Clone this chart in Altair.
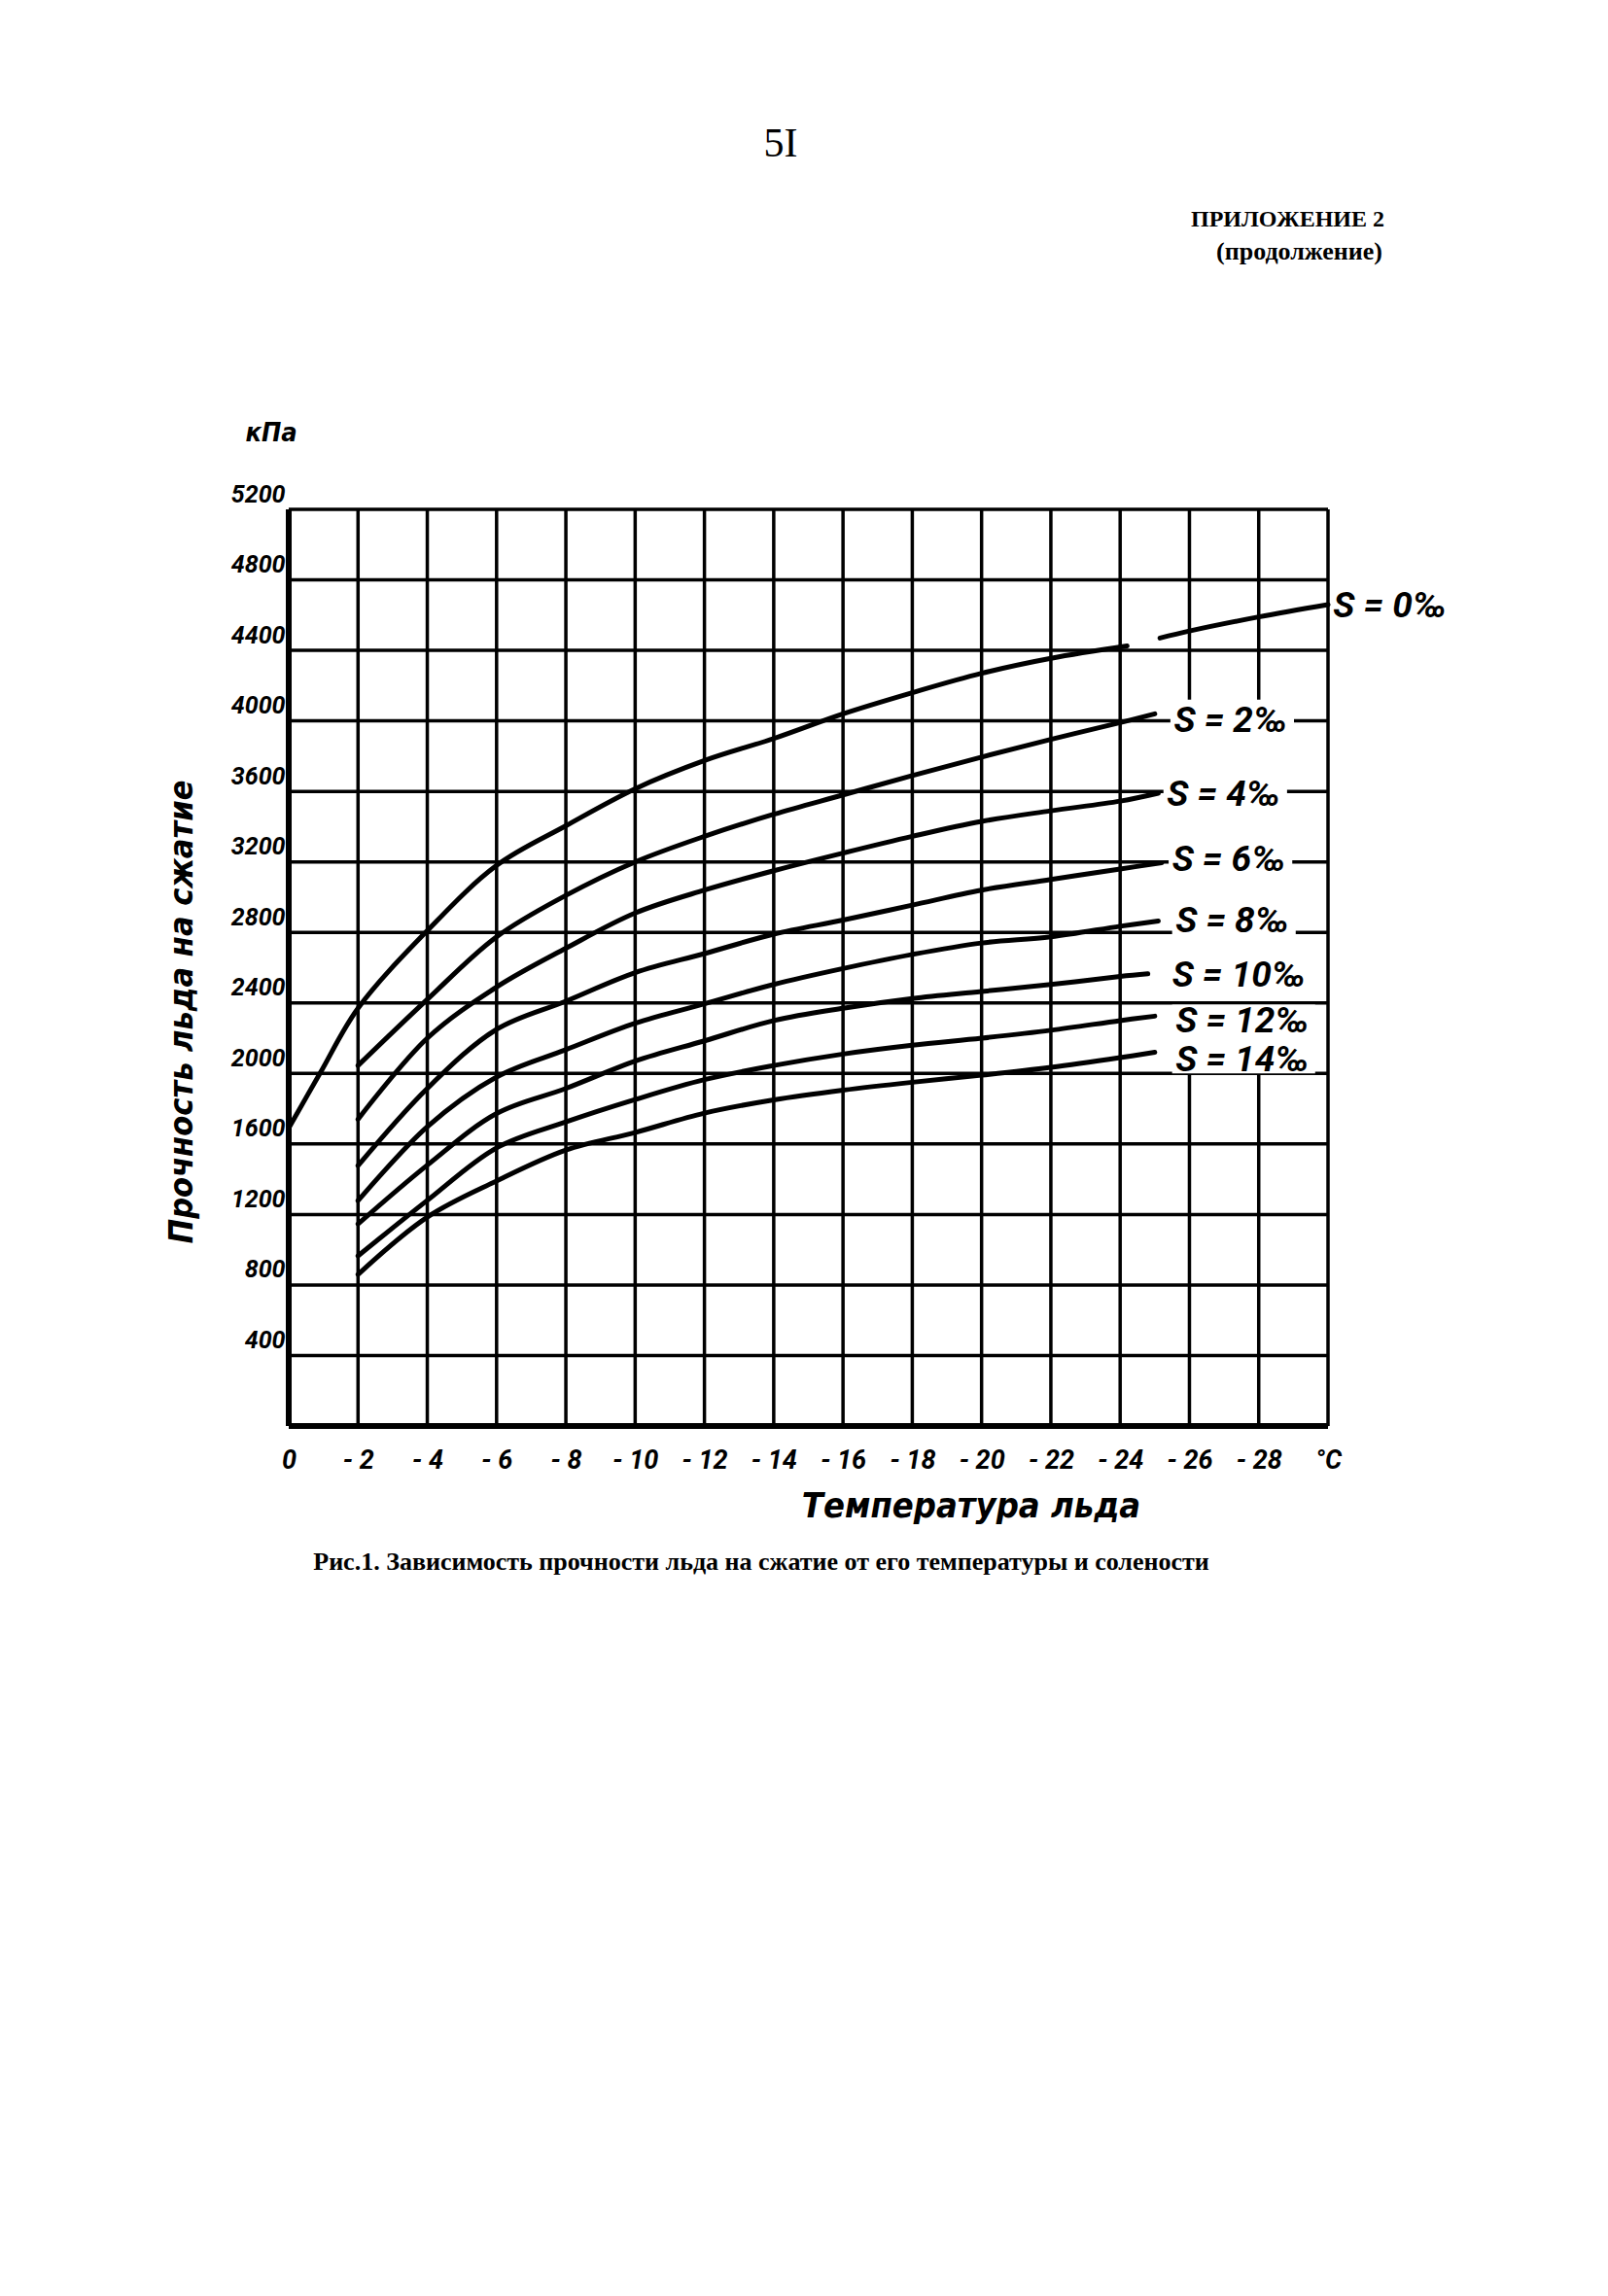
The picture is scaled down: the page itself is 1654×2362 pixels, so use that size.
import altair as alt
import pandas as pd

# ---------------- data ----------------
# S = 0 per mille (starts at 0 degC); drawn in two pieces as in the figure
S0_T_A = [0, -0.9, -2, -4, -6, -8, -10, -12, -14, -16, -18, -20, -22, -24.2]
S0_P_A = [1690, 2000, 2370, 2810, 3180, 3405, 3615, 3775, 3900, 4040, 4160, 4270, 4355, 4425]
S0_T_B = [-25.15, -26, -28, -30]
S0_P_B = [4470, 4510, 4590, 4660]

# salinity curves 2..14 per mille, start at -2 degC
SALINITY = [2, 4, 6, 8, 10, 12, 14]
T_COMMON = [-2, -4, -6, -8, -10, -12, -14, -16, -18, -20, -22, -24]
T_END = [-25.0, -25.1, -25.2, -25.1, -24.8, -25.0, -25.0]
P_S2 = [2045, 2420, 2775, 3010, 3200, 3345, 3470, 3580, 3690, 3795, 3895, 3990, 4040]
P_S4 = [1740, 2200, 2490, 2710, 2910, 3040, 3150, 3250, 3345, 3430, 3490, 3545, 3590]
P_S6 = [1477, 1915, 2250, 2410, 2572, 2680, 2790, 2870, 2955, 3040, 3100, 3160, 3195]
P_S8 = [1278, 1698, 1980, 2135, 2285, 2395, 2505, 2595, 2675, 2740, 2775, 2835, 2865]
P_S10 = [1146, 1480, 1773, 1915, 2070, 2185, 2300, 2370, 2425, 2465, 2505, 2550, 2565]
P_S12 = [965, 1280, 1578, 1725, 1852, 1965, 2045, 2110, 2160, 2200, 2245, 2300, 2325]
P_S14 = [860, 1185, 1390, 1565, 1665, 1775, 1850, 1905, 1950, 1990, 2035, 2090, 2120]
P_SERIES = [P_S2, P_S4, P_S6, P_S8, P_S10, P_S12, P_S14]

# curve labels
LABELS = ["S = 0‰", "S = 2‰", "S = 4‰", "S = 6‰", "S = 8‰", "S = 10‰", "S = 12‰", "S = 14‰"]
LABEL_T = [-30.15, -25.55, -25.35, -25.5, -25.6, -25.5, -25.6, -25.6]
LABEL_P = [4650, 4000, 3580, 3210, 2860, 2555, 2295, 2075]

# axes
X_TICKS = list(range(0, -31, -2))
Y_TICKS = list(range(400, 5201, 400))
Y_GRID = list(range(0, 5201, 400))
GAP_TEMPS = [-26, -28]          # grid lines interrupted behind the labels
GAP_RANGE = (1990, 4120)

# ---------------- styling ----------------
HAND = "DejaVu Sans Condensed, DejaVu Sans, sans-serif"
HAND_N = "Roboto, DejaVu Sans Condensed, sans-serif"
SERIF = "Liberation Serif, DejaVu Serif, serif"
W, H = 1069, 943
PAD = {"left": 297, "top": 524, "right": 1654 - 297 - W, "bottom": 2362 - 524 - H}

XS = alt.Scale(domain=[-30, 0], reverse=True, nice=False, zero=False)
YS = alt.Scale(domain=[0, 5200], nice=False, zero=False)

XAX = alt.Axis(values=X_TICKS,
               labelExpr="datum.value == 0 ? '0' : (datum.value == -30 ? '°C' : '- ' + abs(datum.value))",
               grid=False, domain=False, ticks=False, tickSize=0, labelPadding=22,
               labelFont=HAND_N, labelFontSize=27, labelFontWeight="bold", labelFontStyle="italic",
               labelColor="black", labelOverlap=False, labelFlush=False, labelBaseline="top")
YAX = alt.Axis(values=Y_TICKS, format="d", grid=False, domain=False, ticks=False, tickSize=0,
               labelPadding=4,
               labelFont=HAND_N, labelFontSize=25, labelFontWeight="bold", labelFontStyle="italic",
               labelColor="black", labelOverlap=False, labelFlush=False, labelBaseline="bottom",
               labelOffset=-3)


def xe():
    return alt.X("t:Q", scale=XS, axis=XAX, title=None)


def ye():
    return alt.Y("p:Q", scale=YS, axis=YAX, title=None)


# ---------------- tables ----------------
rows = []
for t, p in zip(S0_T_A, S0_P_A):
    rows.append({"curve": "S0a", "t": t, "p": p})
for t, p in zip(S0_T_B, S0_P_B):
    rows.append({"curve": "S0b", "t": t, "p": p})
for s, ps, te in zip(SALINITY, P_SERIES, T_END):
    for t, p in zip(T_COMMON + [te], ps):
        rows.append({"curve": f"S{s}", "t": t, "p": p})
curves = pd.DataFrame(rows)

vrows = []
for t in X_TICKS:
    if t in GAP_TEMPS:
        vrows.append({"t": t, "p": 0, "p2": GAP_RANGE[0]})
        vrows.append({"t": t, "p": GAP_RANGE[1], "p2": 5200})
    else:
        vrows.append({"t": t, "p": 0, "p2": 5200})
vgrid = pd.DataFrame(vrows)
hgrid = pd.DataFrame({"p": Y_GRID, "t": [0] * len(Y_GRID), "t2": [-30] * len(Y_GRID)})

labels = pd.DataFrame({"label": LABELS, "t": LABEL_T, "p": LABEL_P})
inner = labels.iloc[1:].copy()
inner["t2"] = inner["t"] - inner["label"].str.len() * 20.0 / 35.63 - 0.1
inner["t"] = inner["t"] + 0.1
inner["p2"] = inner["p"] + 95
inner["p"] = inner["p"] - 75

# ---------------- layers ----------------
vlines = alt.Chart(vgrid).mark_rule(color="black", strokeWidth=3.5).encode(
    x=xe(), y=ye(), y2=alt.Y2("p2:Q"))
hlines = alt.Chart(hgrid).mark_rule(color="black", strokeWidth=3.5).encode(
    y=ye(), x=xe(), x2=alt.X2("t2:Q"))
left_axis = alt.Chart(vgrid).transform_filter("datum.t == 0").mark_rule(
    color="black", strokeWidth=6).encode(x=xe(), y=ye(), y2=alt.Y2("p2:Q"))
bottom_axis = alt.Chart(hgrid).transform_filter("datum.p == 0").mark_rule(
    color="black", strokeWidth=6).encode(y=ye(), x=xe(), x2=alt.X2("t2:Q"))

lines = alt.Chart(curves).mark_line(interpolate="catmull-rom", color="black", strokeWidth=5,
                                    strokeCap="round").encode(
    x=xe(), y=ye(), detail="curve:N")

boxes = alt.Chart(inner).mark_rect(color="white").encode(
    x=xe(), x2=alt.X2("t2:Q"), y=ye(), y2=alt.Y2("p2:Q"))
texts = alt.Chart(labels).mark_text(align="left", baseline="middle", font=HAND_N, fontSize=37,
                                    fontWeight="bold", fontStyle="italic", color="black").encode(
    x=xe(), y=ye(), text="label:N")

ONE = alt.Data(values=[{"k": 1}])


def note(txt, x, y, size, font, align="center", weight="bold", style="normal", angle=0):
    return alt.Chart(ONE).mark_text(text=txt, x=x, y=y, fontSize=size, font=font, align=align,
                                    baseline="middle", fontWeight=weight, fontStyle=style,
                                    angle=angle, color="black")


notes = [
    note("5I", 506, -376, 42, SERIF, weight="normal"),
    note("ПРИЛОЖЕНИЕ 2", 1127, -298, 24, SERIF, align="right"),
    note("(продолжение)", 1125, -265, 26, SERIF, align="right"),
    note("кПа", -18, -78, 27, HAND, style="italic"),
    note("Прочность льда на сжатие", -109, 517, 34, HAND, style="italic", angle=270),
    note("Температура льда", 702, 1026, 36, HAND, style="italic"),
    note("Рис.1. Зависимость прочности льда на сжатие от его температуры и солености",
         486, 1083, 26, SERIF),
]

chart = alt.layer(vlines, hlines, left_axis, bottom_axis, lines, boxes, texts, *notes).properties(
    width=W, height=H,
    autosize=alt.AutoSizeParams(type="none"),
    padding=PAD,
).configure_view(stroke=None).configure(background="white")

chart.save("out.html", embed_options={"renderer": "svg", "actions": False})
